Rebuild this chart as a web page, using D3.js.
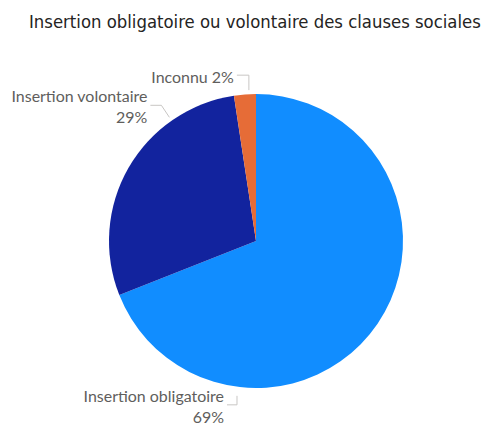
<!DOCTYPE html>
<html>
<head>
<meta charset="utf-8">
<script src="https://cdnjs.cloudflare.com/ajax/libs/d3/7.8.5/d3.min.js"></script>
<style>
  body { margin: 0; background: #fff; }
  svg { display: block; }
</style>
</head>
<body>
<div id="root"></div>
<script>
const categories = ["Insertion obligatoire", "Insertion volontaire", "Inconnu"];
const values = [69.0, 28.6, 2.4];
const pctLabels = ["69%", "29%", "2%"];
const colors = ["#118DFF", "#12239E", "#E66C37"];

const width = 484;
const height = 423;
const cx = 256, cy = 241, radius = 147;

const svg = d3.select("#root")
  .append("svg")
  .attr("width", width)
  .attr("height", height);

// Title
const title = svg.append("text")
  .attr("x", 29)
  .attr("y", 28)
  .attr("fill", "#252423")
  .style("font-family", "'DejaVu Sans Condensed', 'DejaVu Sans', sans-serif")
  .style("font-size", "17px")
  .text("Insertion obligatoire ou volontaire des clauses sociales");
// stretch to the reference width
const tw = title.node().getComputedTextLength();
title.style("font-size", (17 * 452 / tw) + "px");

const pie = d3.pie().sort(null).value((d) => d);
const arcs = pie(values);
const arc = d3.arc().innerRadius(0).outerRadius(radius);

const g = svg.append("g").attr("transform", `translate(${cx},${cy})`);

g.selectAll("path")
  .data(arcs)
  .join("path")
  .attr("d", arc)
  .attr("fill", (d, i) => colors[i]);

// Leader lines and labels (Power BI style placement)
function polar(angleDeg, r) {
  const a = angleDeg * Math.PI / 180;
  return [cx + r * Math.sin(a), cy - r * Math.cos(a)];
}

const labelLayout = [
  { angle: 187, r: 156, elbowDy: 9, run: -10, lines: 2 },
  { angle: 325, r: 151, elbowDy: -12, run: -11, lines: 2 },
  { angle: 357.3, r: 151, elbowDy: -15, run: -12, lines: 1 }
];

const labelFont = "'Segoe UI', Lato, sans-serif";

// size label font so "Insertion volontaire" is ~136px wide
const probe = svg.append("text")
  .style("font-family", labelFont)
  .style("font-size", "15px")
  .text(categories[1]);
const labelSize = 15 * 136 / probe.node().getComputedTextLength();
probe.remove();

labelLayout.forEach((L, i) => {
  const p0 = polar(L.angle, L.r);
  let p1;
  if (i === 1) p1 = [p0[0] - 8, p0[1] + L.elbowDy];
  else p1 = [p0[0], p0[1] + L.elbowDy];
  const p2 = [p1[0] + L.run, p1[1]];

  svg.append("polyline")
    .attr("points", [p0, p1, p2].map((p) => p.join(",")).join(" "))
    .attr("fill", "none")
    .attr("stroke", "#C8C6C4")
    .attr("stroke-width", 1);

  const tx = p2[0] - 3;
  const t = svg.append("text")
    .attr("text-anchor", "end")
    .attr("fill", "#605E5C")
    .style("font-family", labelFont)
    .style("font-size", labelSize + "px");

  if (L.lines === 1) {
    t.attr("x", tx).attr("y", p2[1] + 8)
      .text(categories[i] + " " + pctLabels[i]);
  } else {
    const baseY = p2[1] - 3;
    t.append("tspan").attr("x", tx).attr("y", baseY).text(categories[i]);
    t.append("tspan").attr("x", tx).attr("y", baseY + 21).text(pctLabels[i]);
  }
});
</script>
</body>
</html>
